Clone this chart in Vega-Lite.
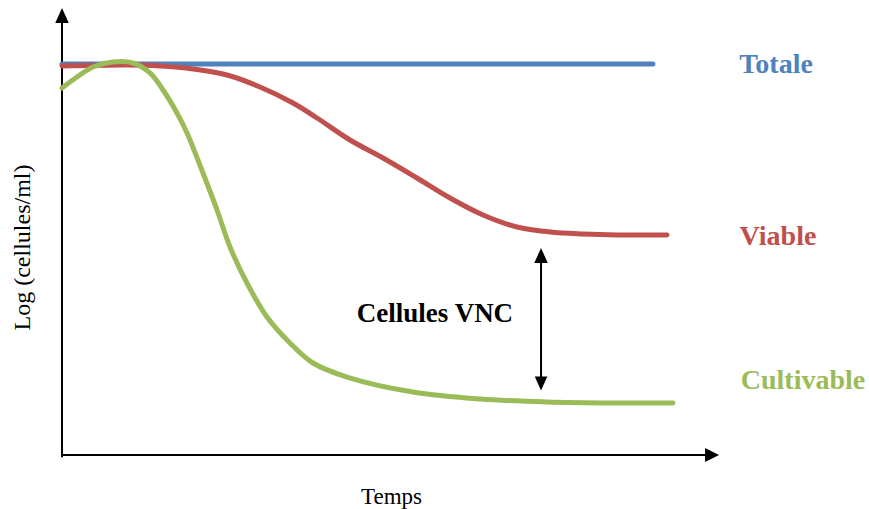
{
  "$schema": "https://vega.github.io/schema/vega-lite/v6.json",
  "autosize": {"type": "none"},
  "width": 807,
  "height": 455,
  "padding": {"left": 62, "top": 0, "right": 0, "bottom": 54},
  "background": "white",
  "config": {"view": {"stroke": null}},
  "datasets": {
    "curves": [
      {"serie": "Totale", "temps": 0, "log": 8.593},
      {"serie": "Totale", "temps": 73.23, "log": 8.593},
      {"serie": "Viable", "temps": 0, "log": 8.549},
      {"serie": "Viable", "temps": 8.05, "log": 8.571},
      {"serie": "Viable", "temps": 12.14, "log": 8.549},
      {"serie": "Viable", "temps": 16.23, "log": 8.484},
      {"serie": "Viable", "temps": 20.45, "log": 8.352},
      {"serie": "Viable", "temps": 24.54, "log": 8.088},
      {"serie": "Viable", "temps": 28.62, "log": 7.736},
      {"serie": "Viable", "temps": 31.6, "log": 7.407},
      {"serie": "Viable", "temps": 35.69, "log": 6.923},
      {"serie": "Viable", "temps": 39.78, "log": 6.527},
      {"serie": "Viable", "temps": 43.99, "log": 6.088},
      {"serie": "Viable", "temps": 48.08, "log": 5.648},
      {"serie": "Viable", "temps": 52.17, "log": 5.275},
      {"serie": "Viable", "temps": 56.38, "log": 5.011},
      {"serie": "Viable", "temps": 60.47, "log": 4.901},
      {"serie": "Viable", "temps": 64.56, "log": 4.857},
      {"serie": "Viable", "temps": 68.77, "log": 4.835},
      {"serie": "Viable", "temps": 74.97, "log": 4.835},
      {"serie": "Cultivable", "temps": 0, "log": 8.066},
      {"serie": "Cultivable", "temps": 1.86, "log": 8.308},
      {"serie": "Cultivable", "temps": 3.84, "log": 8.527},
      {"serie": "Cultivable", "temps": 6.32, "log": 8.637},
      {"serie": "Cultivable", "temps": 8.8, "log": 8.615},
      {"serie": "Cultivable", "temps": 10.9, "log": 8.396},
      {"serie": "Cultivable", "temps": 12.52, "log": 8.022},
      {"serie": "Cultivable", "temps": 14.25, "log": 7.516},
      {"serie": "Cultivable", "temps": 15.49, "log": 7.077},
      {"serie": "Cultivable", "temps": 17.47, "log": 6.198},
      {"serie": "Cultivable", "temps": 19.21, "log": 5.385},
      {"serie": "Cultivable", "temps": 20.82, "log": 4.571},
      {"serie": "Cultivable", "temps": 22.92, "log": 3.78},
      {"serie": "Cultivable", "temps": 25.4, "log": 3.033},
      {"serie": "Cultivable", "temps": 28.25, "log": 2.462},
      {"serie": "Cultivable", "temps": 31.1, "log": 2.022},
      {"serie": "Cultivable", "temps": 35.32, "log": 1.714},
      {"serie": "Cultivable", "temps": 43.49, "log": 1.385},
      {"serie": "Cultivable", "temps": 51.8, "log": 1.231},
      {"serie": "Cultivable", "temps": 60.1, "log": 1.165},
      {"serie": "Cultivable", "temps": 68.28, "log": 1.143},
      {"serie": "Cultivable", "temps": 75.71, "log": 1.143}
    ],
    "segments": [
      {"name": "axe_y", "temps": 0, "log": -0.05, "temps2": 0, "log2": 9.56},
      {"name": "axe_x", "temps": -0.1, "log": 0, "temps2": 80.05, "log2": 0},
      {"name": "vnc", "temps": 59.36, "log": 1.714, "temps2": 59.36, "log2": 4.242}
    ],
    "heads": [
      {"dir": "up", "temps": 0, "log": 9.659},
      {"dir": "right", "temps": 80.55, "log": 0},
      {"dir": "up", "temps": 59.36, "log": 4.385},
      {"dir": "down", "temps": 59.36, "log": 1.571}
    ],
    "labels": [
      {"serie": "Totale", "temps": 88.48, "log": 8.396},
      {"serie": "Viable", "temps": 88.72, "log": 4.615},
      {"serie": "Cultivable", "temps": 91.82, "log": 1.451}
    ],
    "note": [
      {"text": "Cellules VNC", "temps": 46.22, "log": 2.923}
    ]
  },
  "encoding": {
    "x": {
      "field": "temps", "type": "quantitative",
      "scale": {"domain": [0, 100], "nice": false, "zero": false},
      "axis": {
        "title": "Temps", "domain": false, "ticks": false, "labels": false, "grid": false,
        "titleFont": "Liberation Serif", "titleFontSize": 23, "titleFontWeight": "normal",
        "titleColor": "#000000", "titleX": 329, "titleY": 48,
        "titleBaseline": "alphabetic", "titleAlign": "center"
      }
    },
    "y": {
      "field": "log", "type": "quantitative",
      "scale": {"domain": [0, 10], "nice": false, "zero": false},
      "axis": {
        "title": "Log (cellules/ml)", "domain": false, "ticks": false, "labels": false, "grid": false,
        "titleFont": "Liberation Serif", "titleFontSize": 24, "titleFontWeight": "normal",
        "titleColor": "#000000", "titleX": -33, "titleY": 247, "titleAngle": 270,
        "titleBaseline": "alphabetic", "titleAlign": "center"
      }
    }
  },
  "layer": [
    {
      "data": {"name": "segments"},
      "mark": {"type": "rule", "color": "#000000", "strokeWidth": 2},
      "encoding": {
        "x2": {"field": "temps2"},
        "y2": {"field": "log2"},
        "strokeWidth": {
          "field": "name", "type": "nominal",
          "scale": {"domain": ["axe_y", "axe_x", "vnc"], "range": [2, 2, 1.5]},
          "legend": null
        }
      }
    },
    {
      "data": {"name": "heads"},
      "transform": [{"filter": "datum.dir === 'up'"}],
      "mark": {"type": "point", "shape": "M0,-1L-0.9,1L0.9,1Z", "size": 225, "filled": true, "color": "#000000", "opacity": 1, "strokeWidth": 0}
    },
    {
      "data": {"name": "heads"},
      "transform": [{"filter": "datum.dir === 'down'"}],
      "mark": {"type": "point", "shape": "M0,1L-0.9,-1L0.9,-1Z", "size": 196, "filled": true, "color": "#000000", "opacity": 1, "strokeWidth": 0}
    },
    {
      "data": {"name": "heads"},
      "transform": [{"filter": "datum.dir === 'right'"}],
      "mark": {"type": "point", "shape": "M1,0L-1,-1L-1,1Z", "size": 196, "filled": true, "color": "#000000", "opacity": 1, "strokeWidth": 0}
    },
    {
      "data": {"name": "curves"},
      "mark": {"type": "line", "interpolate": "catmull-rom", "strokeWidth": 5, "strokeCap": "round"},
      "encoding": {
        "color": {
          "field": "serie", "type": "nominal",
          "scale": {"domain": ["Totale", "Viable", "Cultivable"], "range": ["#4F81BD", "#C0504D", "#9BBB59"]},
          "legend": null
        },
        "order": {"field": "temps", "type": "quantitative"}
      }
    },
    {
      "data": {"name": "labels"},
      "mark": {"type": "text", "font": "Liberation Serif", "fontWeight": "bold", "fontSize": 28, "align": "center", "baseline": "alphabetic"},
      "encoding": {
        "text": {"field": "serie"},
        "color": {
          "field": "serie", "type": "nominal",
          "scale": {"domain": ["Totale", "Viable", "Cultivable"], "range": ["#4F81BD", "#C0504D", "#9BBB59"]},
          "legend": null
        }
      }
    },
    {
      "data": {"name": "note"},
      "mark": {"type": "text", "font": "Liberation Serif", "fontWeight": "bold", "fontSize": 27, "align": "center", "baseline": "alphabetic", "color": "#000000"},
      "encoding": {"text": {"field": "text"}}
    }
  ]
}
